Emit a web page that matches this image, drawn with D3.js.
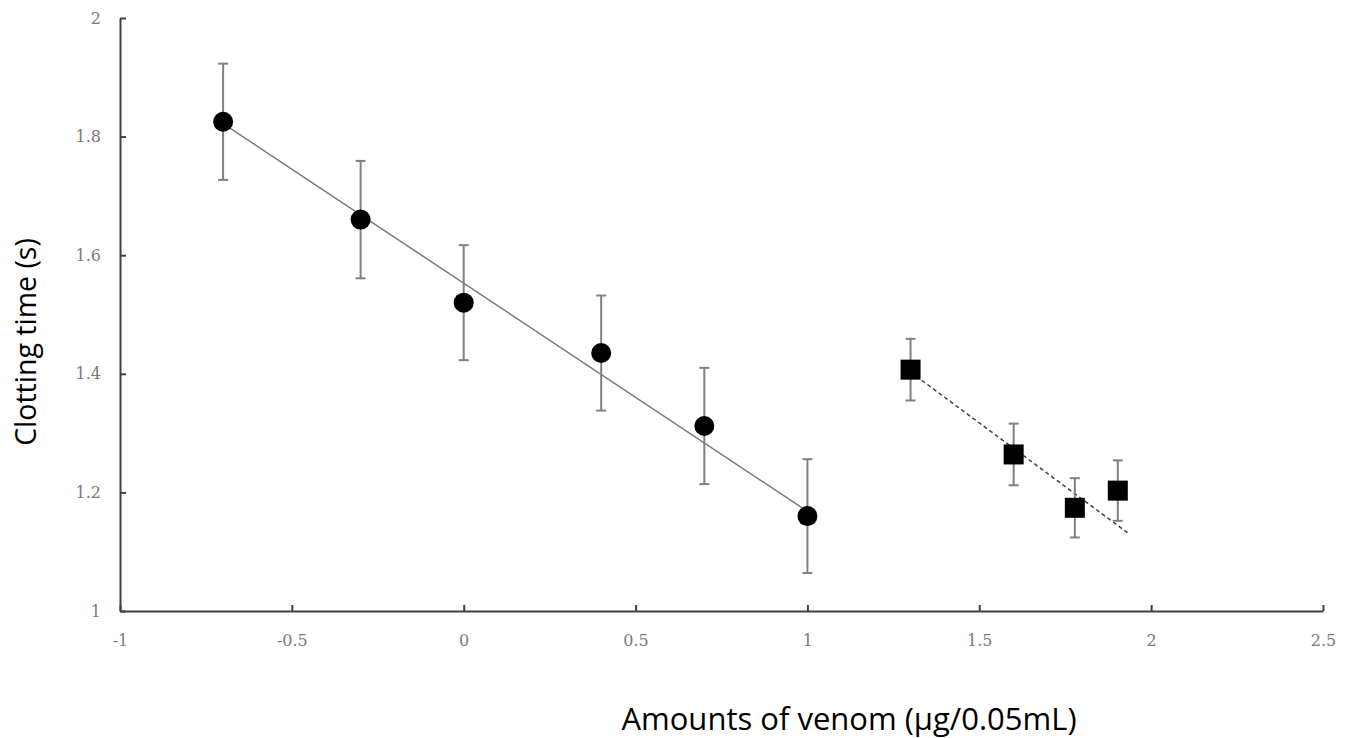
<!DOCTYPE html>
<html>
<head>
<meta charset="utf-8">
<script src="https://cdn.jsdelivr.net/npm/d3@7"></script>
<style>
body{margin:0;background:#fff}
.tick text{font-family:"DejaVu Serif",serif;font-size:16px;fill:#7a7a7a}
.title{font-family:"Open Sans",sans-serif;font-size:31px;fill:#000}
</style>
</head>
<body>
<svg></svg>
<script>
// low amounts (circles)
let circleX=[-0.7,-0.3,0,0.4,0.7,1]
let circleY=[1.825,1.66,1.52,1.435,1.312,1.16]
let circleErr=[0.098,0.099,0.097,0.097,0.098,0.096]
// high amounts (squares)
let squareX=[1.3,1.6,1.778,1.903]
let squareY=[1.407,1.264,1.174,1.203]
let squareErr=[0.052,0.052,0.05,0.051]
// trend lines, end points
let solidTrendX=[-0.7,1]
let solidTrendY=[1.822,1.168]
let dashTrendX=[1.3,1.936]
let dashTrendY=[1.403,1.13]

let xTicks=[-1,-0.5,0,0.5,1,1.5,2,2.5]
let yTicks=[1,1.2,1.4,1.6,1.8,2]

let width=1351
let height=738

let svg=d3.select('svg').attr('width',width).attr('height',height)

let xScale=d3.scaleLinear().domain([-1,2.5]).range([120,1323])
let yScale=d3.scaleLinear().domain([1,2]).range([611,18])

let circles=circleX.map((x,i)=>({x:x,y:circleY[i],e:circleErr[i]}))
let squares=squareX.map((x,i)=>({x:x,y:squareY[i],e:squareErr[i]}))

let drawAxes=()=>{
    // plain hyphen for negatives, like the original
    let fmt=d=>String(d)
    let xAxis=d3.axisBottom(xScale).tickValues(xTicks).tickFormat(fmt).tickSizeInner(-6).tickSizeOuter(0).tickPadding(24)
    let yAxis=d3.axisLeft(yScale).tickValues(yTicks).tickFormat(fmt).tickSizeInner(-6).tickSizeOuter(0).tickPadding(19)

    svg.append('g').attr('transform','translate(0,'+yScale(1)+')').call(xAxis)
    svg.append('g').attr('transform','translate('+xScale(-1)+',0)').call(yAxis)
    svg.selectAll('.domain, .tick line').attr('stroke','#404040').attr('stroke-width',2)

    svg.append('text')
        .attr('class','title')
        .attr('transform','translate(36,342) rotate(-90)')
        .attr('text-anchor','middle')
        .style('font-size','28.5px')
        .text('Clotting time (s)')
    svg.append('text')
        .attr('class','title')
        .attr('x',849)
        .attr('y',730)
        .attr('text-anchor','middle')
        .text('Amounts of venom (μg/0.05mL)')
}

let drawTrends=()=>{
    let line=d3.line().x(d=>xScale(d[0])).y(d=>yScale(d[1]))
    svg.append('path')
        .attr('d',line(solidTrendX.map((x,i)=>[x,solidTrendY[i]])))
        .attr('fill','none')
        .attr('stroke','#7a7a7a')
        .attr('stroke-width',1.5)
    svg.append('path')
        .attr('d',line(dashTrendX.map((x,i)=>[x,dashTrendY[i]])))
        .attr('fill','none')
        .attr('stroke','#404040')
        .attr('stroke-width',1.5)
        .attr('stroke-dasharray','4,3')
}

let drawErrors=(data)=>{
    let g=svg.append('g').attr('stroke','#808080').attr('stroke-width',2)
    data.forEach(d=>{
        let cx=xScale(d.x)
        g.append('line').attr('x1',cx).attr('x2',cx).attr('y1',yScale(d.y+d.e)).attr('y2',yScale(d.y-d.e))
        g.append('line').attr('x1',cx-5).attr('x2',cx+5).attr('y1',yScale(d.y+d.e)).attr('y2',yScale(d.y+d.e))
        g.append('line').attr('x1',cx-5).attr('x2',cx+5).attr('y1',yScale(d.y-d.e)).attr('y2',yScale(d.y-d.e))
    })
}

let drawPoints=()=>{
    svg.selectAll('circle.pt')
        .data(circles)
        .enter()
        .append('circle')
        .attr('class','pt')
        .attr('cx',d=>xScale(d.x))
        .attr('cy',d=>yScale(d.y))
        .attr('r',10)
        .attr('fill','#000')

    svg.selectAll('rect.pt')
        .data(squares)
        .enter()
        .append('rect')
        .attr('class','pt')
        .attr('x',d=>xScale(d.x)-10)
        .attr('y',d=>yScale(d.y)-10)
        .attr('width',20)
        .attr('height',20)
        .attr('fill','#000')
}

drawAxes()
drawTrends()
drawErrors(circles)
drawErrors(squares)
drawPoints()
</script>
</body>
</html>
